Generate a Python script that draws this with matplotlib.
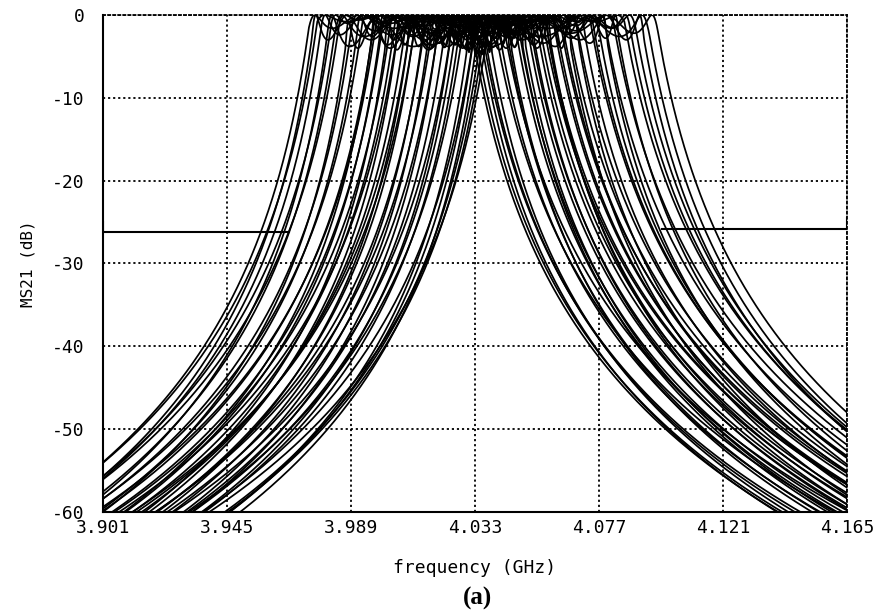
import numpy as np
import matplotlib
matplotlib.use("Agg")
import matplotlib.pyplot as plt

# Monte Carlo runs of the bandpass filter: passband edges (GHz), ripple and extra loss (dB)
f_lo = [3.974, 3.975, 3.977, 3.978, 3.980, 3.982, 3.983, 3.985, 3.987, 3.989,
        3.991, 3.993, 3.996, 3.997, 3.998, 3.999, 4.000, 4.001, 4.003, 4.004,
        4.005, 4.006, 4.008, 4.009, 4.010, 4.011, 4.012, 4.014, 4.015, 4.016,
        4.018, 4.019, 4.020, 4.022, 4.024, 4.025, 4.026, 4.027, 4.029, 4.030,
        4.032, 4.033, 4.035, 4.036, 4.038, 4.033]
f_hi = [4.062, 4.036, 4.086, 4.052, 4.070, 4.043, 4.095, 4.057, 4.033, 4.077,
        4.049, 4.066, 4.060, 4.040, 4.082, 4.054, 4.090, 4.046, 4.064, 4.072,
        4.037, 4.058, 4.098, 4.051, 4.075, 4.042, 4.063, 4.080, 4.055, 4.034,
        4.069, 4.050, 4.088, 4.059, 4.045, 4.074, 4.053, 4.093, 4.061, 4.039,
        4.067, 4.056, 4.084, 4.048, 4.079, 4.036]
ripple_db = [1.6, 3.0, 0.8, 2.4, 3.8, 1.0, 2.6, 0.6, 3.2, 1.9,
             2.6, 0.9, 3.6, 1.4, 0.7, 3.0, 1.6, 4.2, 1.1, 2.4,
             2.6, 0.8, 2.2, 3.8, 1.3, 2.8, 0.5, 3.4, 1.7, 2.4,
             1.0, 3.9, 1.5, 2.7, 2.9, 0.9, 2.2, 3.0, 1.2, 2.0,
             4.0, 1.4, 2.8, 1.6, 0.8, 0.5]
loss_db = [0, 0, 0, 0, 0, 0, 0, 0, 0.8, 0,
           0, 0, 0, 0, 0, 0, 0, 0, 0, 0,
           1.0, 0, 0, 0, 0, 0, 0, 0, 0, 1.5,
           0, 0, 0, 0, 0.6, 0, 0, 0, 0, 2.5,
           0, 0, 0, 1.2, 0, 4.2]

# spec mask: (start, stop, level)
mask_low = (3.901, 3.967, -26.2)
mask_high = (4.0995, 4.165, -25.8)

xticks = [3.901, 3.945, 3.989, 4.033, 4.077, 4.121, 4.165]
yticks = [0, -10, -20, -30, -40, -50, -60]

N_ORDER = 5
f = np.linspace(3.901, 4.165, 2400)


def response(lo, hi, rip, loss):
    eps2 = 10 ** (rip / 10) - 1
    x = np.clip((2 * f - lo - hi) / (hi - lo), -1, 1)
    cheb = np.cos(N_ORDER * np.arccos(x))
    att = 10 * np.log10(1 + eps2 * cheb ** 2)
    # skirts below and above the passband
    att += 57 * np.log10(1 + np.maximum(lo - f, 0) / 0.010)
    att += 57 * np.log10(1 + np.maximum(f - hi, 0) / 0.0125)
    return -(att + loss)


fig = plt.figure(figsize=(8.86, 6.15), dpi=100)
ax = fig.add_axes([0.1163, 0.1675, 0.8397, 0.8081])

for lo, hi, rip, loss in zip(f_lo, f_hi, ripple_db, loss_db):
    ax.plot(f, response(lo, hi, rip, loss), color="black", lw=1.25)

# mask lines with their end markers
ax.plot([mask_low[0], mask_low[0], mask_low[1]],
        [mask_low[2] + 1.2, mask_low[2], mask_low[2]], color="black", lw=1.5)
ax.plot([mask_high[0], mask_high[1], mask_high[1]],
        [mask_high[2], mask_high[2], mask_high[2] + 1.3], color="black", lw=1.5)

ax.set_xlim(3.901, 4.165)
ax.set_ylim(-60, 0)
ax.set_xticks(xticks)
ax.set_yticks(yticks)
mono = "DejaVu Sans Mono"
ax.set_xticklabels([f"{t:.3f}" for t in xticks], fontfamily=mono, fontsize=13)
ax.set_yticklabels([str(t) for t in yticks], fontfamily=mono, fontsize=13)
ax.tick_params(axis="y", length=0, pad=13)
ax.tick_params(axis="x", length=0, pad=5)
ax.grid(True, color="black", linestyle=(0, (1.2, 1.6)), lw=1.3)

for side in ["top", "right"]:
    ax.spines[side].set_linestyle((0, (1.2, 1.6)))
    ax.spines[side].set_linewidth(1.3)
for side in ["left", "bottom"]:
    ax.spines[side].set_linewidth(1.5)

ax.set_ylabel("MS21 (dB)", fontfamily=mono, fontsize=11.5, labelpad=12)
ax.set_xlabel("frequency (GHz)", fontfamily=mono, fontsize=13, labelpad=16)
fig.text(0.5384, 0.027, "(a)", fontfamily="Liberation Serif", fontweight="bold",
         fontsize=18, ha="center", va="center")

fig.savefig("out.png", dpi=100)
